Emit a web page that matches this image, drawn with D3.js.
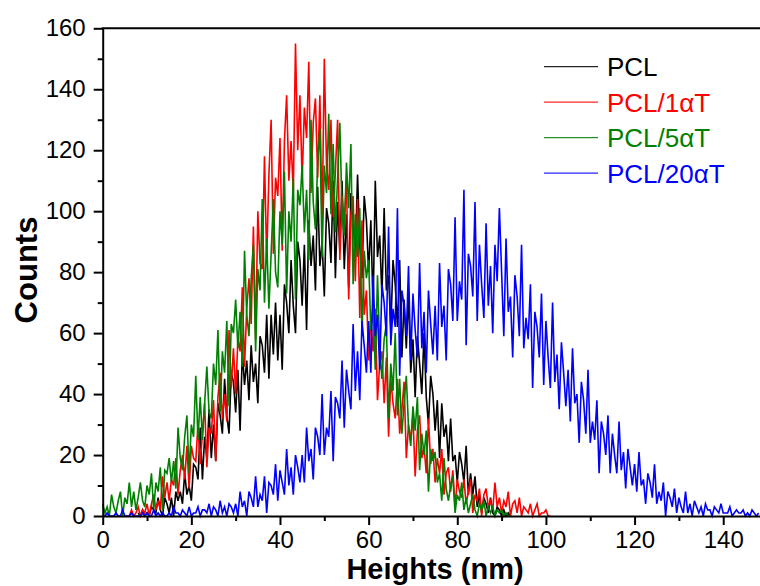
<!DOCTYPE html>
<html><head><meta charset="utf-8">
<script src="https://cdn.jsdelivr.net/npm/d3@7"></script>
<style>
body{margin:0;background:#fff}
svg{display:block}
text{font-family:"Liberation Sans",Arial,Helvetica,sans-serif}
</style>
</head><body>
<svg id="chart" width="760" height="586"></svg>
<script>
// ---- data (counts per 0.5 nm height bin) ----
const binWidth = 0.5;
const seriesNames = ["PCL", "PCL/1\u03B1T", "PCL/5\u03B1T", "PCL/20\u03B1T"];
const seriesColors = ["#000000", "#ff0000", "#008000", "#0000ff"];

const pclStart = 8;
const pclCounts = [1,0,2,0,1,0,3,2,1,6,2,0,6,4,1,6,0,8,5,8,4,14,7,10,5,17,16,12,29,12,
26,19,35,19,30,18,37,33,27,45,33,27,47,44,34,48,28,54,43,51,38,56,44,50,37,59,56,47,66,45,
66,53,70,51,66,48,76,70,60,84,69,60,90,84,69,89,61,97,82,92,74,108,82,90,72,101,96,83,110,78,
103,87,110,81,99,75,106,97,85,112,89,78,105,97,80,97,68,110,85,92,72,101,74,79,61,84,76,62,84,52,
71,55,73,47,58,39,59,50,40,60,39,30,46,40,28,38,19,37,26,30,18,32,18,20,11,21,17,11,23,7,
14,7,13,3,7,1,6,4,1,6,1,0,3,2,0,2,0,1,0];

const pcl1Start = 6;
const pcl1Counts = [0,2,0,1,3,0,2,1,4,0,4,7,2,5,2,13,6,11,5,12,10,19,7,15,20,12,23,9,23,19,
18,30,17,27,37,16,29,27,38,18,39,47,32,40,31,61,42,55,40,58,54,75,49,68,78,63,95,58,100,83,
81,118,84,112,130,86,111,105,124,87,123,138,110,123,106,155,120,138,110,134,124,149,106,129,137,111,138,95,150,115,
107,130,98,113,130,84,105,96,110,71,99,105,77,104,65,97,66,74,51,64,54,68,38,50,54,37,52,26,45,37,
32,45,27,35,44,19,30,25,33,13,28,33,19,23,14,32,17,22,11,19,14,22,7,14,16,8,15,3,12,8,
6,12,4,8,12,1,7,5,9,0,7,9,3,5,2,11,3,6,1,5,3,8,0,4,5,1,6,0,3,2,
1,4,0,2,4,0,1,1,2,0,0];

const pcl5Start = 0;
const pcl5Counts = [4,1,3,0,7,3,1,5,8,0,6,4,11,3,8,2,6,11,5,3,10,7,14,2,11,8,16,2,15,14,
19,11,18,9,29,19,15,26,33,14,30,26,46,25,39,25,37,49,34,32,50,43,61,34,54,47,64,36,63,60,
71,55,67,49,87,66,59,78,89,54,81,74,104,70,91,68,86,104,80,75,100,89,113,73,100,90,111,71,107,102,
115,93,107,84,130,103,94,116,127,85,115,106,132,99,122,93,111,129,100,92,116,101,122,76,99,85,101,59,87,78,
84,61,69,48,79,55,45,58,63,32,50,41,60,33,45,27,37,46,29,23,36,28,39,15,27,20,28,8,22,18,
21,11,14,5,19,9,5,10,13,1,7,5,11,2,6,1,4,7,2,0,4,2,5,0,3,1,3,0,2,1,
2,0,1,0,0];

const pcl20Start = 0;
const pcl20Counts = [0,0,1,0,0,0,1,0,0,2,0,0,0,1,0,0,0,0,1,0,1,0,0,2,0,1,0,1,0,0,
1,0,3,1,1,0,2,1,0,3,0,1,1,3,0,2,2,1,4,0,3,2,0,5,1,3,0,4,3,1,
4,0,8,3,5,0,8,6,3,13,3,7,5,13,1,11,10,7,17,5,15,11,7,22,10,16,7,20,16,11,
20,11,29,18,22,12,29,26,20,40,20,29,26,41,18,39,37,32,51,29,48,41,35,63,41,54,38,64,56,47,
64,47,79,59,66,48,76,70,59,95,56,68,62,101,46,74,69,59,82,51,73,61,52,83,55,67,47,74,63,53,
69,51,83,62,69,51,81,76,64,98,64,77,71,107,56,86,82,72,103,64,89,76,65,96,69,82,60,89,77,101,
80,59,91,67,72,52,79,72,59,89,55,65,58,76,42,67,62,52,73,43,64,52,42,70,44,53,35,57,47,36,
48,31,55,37,40,24,44,38,27,48,24,31,25,38,14,31,27,20,33,14,27,20,14,31,15,21,9,22,16,10,
17,8,21,10,12,4,14,11,6,17,4,8,5,11,0,8,6,3,9,1,6,3,1,8,1,4,0,5,3,1,
3,0,4,2,2,0,3,2,1,4,1,1,1,3,0,1,2,1,1,2,0,1,0,2,1,0,1];

const xTickValues = [0, 20, 40, 60, 80, 100, 120, 140];
const xMinorTicks = [10, 30, 50, 70, 90, 110, 130];
const yTickValues = [0, 20, 40, 60, 80, 100, 120, 140, 160];
const yMinorTicks = [10, 30, 50, 70, 90, 110, 130, 150];

const seriesStarts = [pclStart, pcl1Start, pcl5Start, pcl20Start];
const seriesCounts = [pclCounts, pcl1Counts, pcl5Counts, pcl20Counts];

// ---- layout ----
const svg = d3.select("#chart");
const plotLeft = 102.7, plotRight = 760, plotTop = 28.3, plotBottom = 516;
const x = d3.scaleLinear().domain([0, 148.3]).range([plotLeft, plotRight]);
const y = d3.scaleLinear().domain([0, 160]).range([plotBottom, plotTop]);

const series = seriesNames.map((name, k) => ({
  name, color: seriesColors[k],
  points: seriesCounts[k].map((c, i) => ({h: seriesStarts[k] + i * binWidth, c}))
}));

// data lines
const line = d3.line().x(d => x(d.h)).y(d => y(d.c));
svg.append("g").selectAll("path").data(series).join("path")
  .attr("d", d => line(d.points))
  .attr("fill", "none")
  .attr("stroke", d => d.color)
  .attr("stroke-width", 1.6)
  .attr("stroke-linejoin", "miter");

// axes
const fontSize = 24;
const xAxis = svg.append("g").attr("transform", `translate(0,${plotBottom})`)
  .call(d3.axisBottom(x).tickValues(xTickValues).tickSize(9).tickPadding(6).tickSizeOuter(0));
const xMinor = svg.append("g").attr("transform", `translate(0,${plotBottom})`)
  .call(d3.axisBottom(x).tickValues(xMinorTicks).tickSize(5).tickFormat("").tickSizeOuter(0));
const yAxis = svg.append("g").attr("transform", `translate(${plotLeft},0)`)
  .call(d3.axisLeft(y).tickValues(yTickValues).tickSize(9).tickPadding(8).tickSizeOuter(0));
const yMinor = svg.append("g").attr("transform", `translate(${plotLeft},0)`)
  .call(d3.axisLeft(y).tickValues(yMinorTicks).tickSize(5).tickFormat("").tickSizeOuter(0));

[xAxis, xMinor, yAxis, yMinor].forEach(g => {
  g.select(".domain").attr("stroke", "#000").attr("stroke-width", 2);
  g.selectAll(".tick line").attr("stroke", "#000").attr("stroke-width", 2);
  g.selectAll(".tick text").attr("font-size", fontSize)
    .attr("font-family", '"Liberation Sans", Arial, sans-serif').attr("fill", "#000");
});
xMinor.select(".domain").remove();
yMinor.select(".domain").remove();

// top frame line
svg.append("line").attr("x1", plotLeft - 1).attr("x2", plotRight).attr("y1", plotTop).attr("y2", plotTop)
  .attr("stroke", "#000").attr("stroke-width", 2);

// axis titles
svg.append("text").attr("x", 435).attr("y", 579).attr("text-anchor", "middle")
  .attr("font-size", 29).attr("font-weight", "bold").text("Heights (nm)");
svg.append("text").attr("transform", "translate(37,270) rotate(-90)").attr("text-anchor", "middle")
  .attr("font-size", 31).attr("font-weight", "bold").text("Counts");

// legend
const legend = svg.append("g");
const lg = legend.selectAll("g").data(series).join("g")
  .attr("transform", (d, i) => `translate(544,${66.7 + i * 35.5})`);
lg.append("line").attr("x1", 0).attr("x2", 54).attr("y1", 0).attr("y2", 0)
  .attr("stroke", d => d.color).attr("stroke-width", 1.3).attr("stroke-opacity", 0.85);
lg.append("text").attr("x", 63).attr("y", 0).attr("dy", "0.37em")
  .attr("font-size", 26).attr("fill", d => d.color).text(d => d.name);
</script>
</body></html>
